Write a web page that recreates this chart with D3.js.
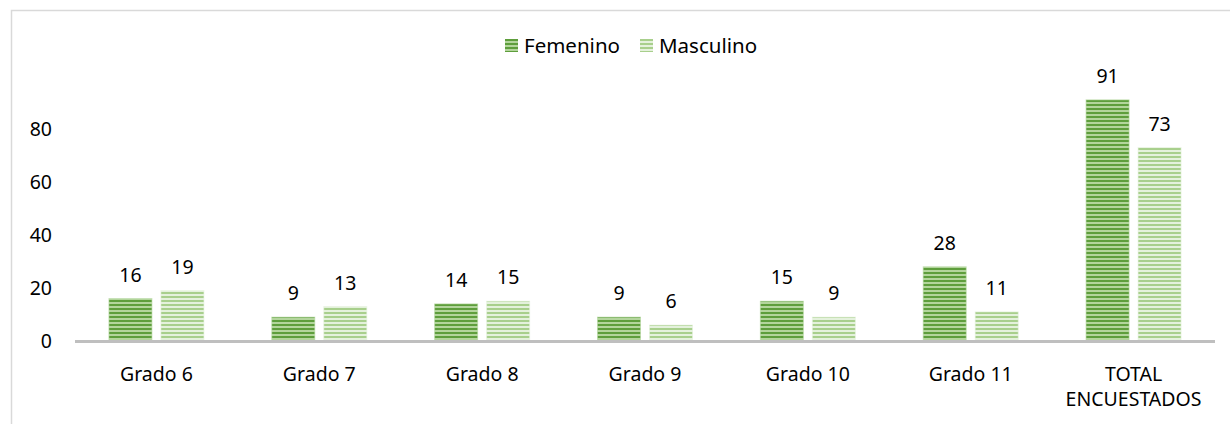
<!DOCTYPE html>
<html>
<head>
<meta charset="utf-8">
<script src="https://cdn.jsdelivr.net/npm/d3@7"></script>
<style>
  body { margin: 0; background: #fff; }
  text { font-family: "Noto Sans", sans-serif; fill: #000; }
</style>
</head>
<body>
<script>
const categories = ['Grado 6', 'Grado 7', 'Grado 8', 'Grado 9', 'Grado 10', 'Grado 11', 'TOTAL ENCUESTADOS']
const series = ['Femenino', 'Masculino']
const femenino = [16, 9, 14, 9, 15, 28, 91]
const masculino = [19, 13, 15, 6, 9, 11, 73]
const yTicks = [0, 20, 40, 60, 80]

const width = 1230, height = 424
const margin = { top: 76, left: 75, right: 15, bottom: 83 }
const fontSize = '19.5px'

const svg = d3.select('body').append('svg')
  .attr('width', width)
  .attr('height', height)

// stripe patterns
const defs = svg.append('defs')
const stripes = {
  Femenino: ['#5e9e3c', '#b3d59c'],
  Masculino: ['#a8cf8c', '#e4f1dc']
}
series.forEach(function (s) {
  const p = defs.append('pattern')
    .attr('id', 'pat-' + s)
    .attr('patternUnits', 'userSpaceOnUse')
    .attr('width', 8).attr('height', 4)
  p.append('rect').attr('width', 8).attr('height', 4).attr('fill', stripes[s][1])
  p.append('rect').attr('width', 8).attr('height', 2).attr('fill', stripes[s][0])
})

// outer border
svg.append('path')
  .attr('d', 'M11.5,' + height + 'V10.5H' + width)
  .attr('fill', 'none')
  .attr('stroke', '#d9d9d9')
  .attr('stroke-width', 1.5)

const x0 = d3.scaleBand().domain(categories).range([margin.left, width - margin.right])
const x1 = d3.scaleBand().domain(series)
  .range([(x0.bandwidth() - 95) / 2, (x0.bandwidth() + 95) / 2])
  .paddingInner(0.173)
const y = d3.scaleLinear().domain([0, 100]).range([height - margin.bottom, margin.top])

const rows = categories.map(function (c, i) {
  return { cat: c, values: [{ s: 'Femenino', v: femenino[i] }, { s: 'Masculino', v: masculino[i] }] }
})

// Y axis labels
svg.append('g')
  .selectAll('text')
  .data(yTicks)
  .enter()
  .append('text')
  .attr('x', 52)
  .attr('y', function (d) { return y(d) })
  .attr('dy', '0.35em')
  .attr('text-anchor', 'end')
  .style('font-size', fontSize)
  .text(function (d) { return d })

// Bars
const groups = svg.append('g')
  .selectAll('g')
  .data(rows)
  .enter()
  .append('g')
  .attr('transform', function (d) { return 'translate(' + x0(d.cat) + ',0)' })

groups.selectAll('rect')
  .data(function (d) { return d.values })
  .enter()
  .append('rect')
  .attr('x', function (d) { return x1(d.s) })
  .attr('y', function (d) { return y(d.v) })
  .attr('width', x1.bandwidth())
  .attr('height', function (d) { return y(0) - y(d.v) })
  .attr('fill', function (d) { return 'url(#pat-' + d.s + ')' })
  .attr('stroke', function (d) { return stripes[d.s][1] })
  .attr('stroke-opacity', 0.6)
  .attr('stroke-width', 1)

groups.selectAll('.lbl')
  .data(function (d) { return d.values })
  .enter()
  .append('text')
  .attr('class', 'lbl')
  .attr('x', function (d) { return x1(d.s) + x1.bandwidth() / 2 })
  .attr('y', function (d) { return y(d.v) - 17 })
  .attr('text-anchor', 'middle')
  .style('font-size', fontSize)
  .text(function (d) { return d.v })

// X axis line
svg.append('line')
  .attr('x1', margin.left).attr('x2', width - margin.right)
  .attr('y1', y(0) + 0.5).attr('y2', y(0) + 0.5)
  .attr('stroke', '#bfbfbf')
  .attr('stroke-width', 3)

// Category labels
svg.append('g')
  .selectAll('text')
  .data(categories)
  .enter()
  .append('text')
  .attr('x', function (d) { return x0(d) + x0.bandwidth() / 2 })
  .attr('y', 381)
  .attr('text-anchor', 'middle')
  .style('font-size', fontSize)
  .each(function (d) {
    const words = d === 'TOTAL ENCUESTADOS' ? ['TOTAL', 'ENCUESTADOS'] : [d]
    const t = d3.select(this)
    words.forEach(function (w, i) {
      t.append('tspan')
        .attr('x', x0(d) + x0.bandwidth() / 2)
        .attr('dy', i === 0 ? 0 : 25)
        .text(w)
    })
  })

// Legend
const legendX = [505, 640]
const legend = svg.append('g')
  .selectAll('g')
  .data(series)
  .enter()
  .append('g')
  .attr('transform', function (d, i) { return 'translate(' + legendX[i] + ',39)' })
legend.append('rect')
  .attr('width', 13).attr('height', 13)
  .attr('fill', function (d) { return 'url(#pat-' + d + ')' })
legend.append('text')
  .attr('x', 19)
  .attr('y', 7)
  .attr('dy', '0.35em')
  .style('font-size', '20.5px')
  .text(function (d) { return d })
</script>
</body>
</html>
